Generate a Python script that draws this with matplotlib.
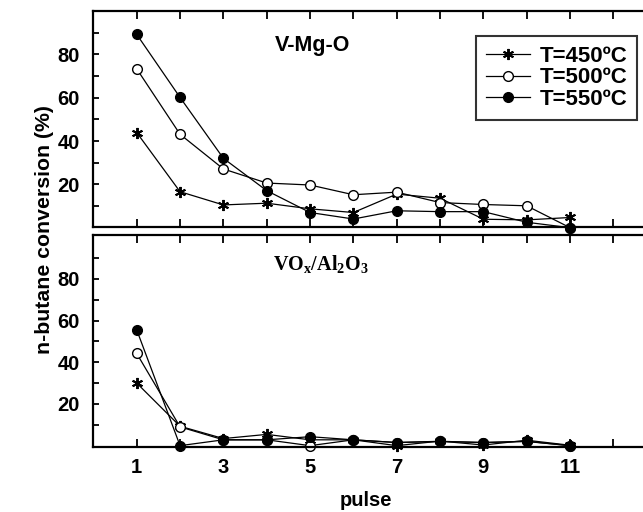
import matplotlib
matplotlib.use("Agg")
import matplotlib.pyplot as plt
from matplotlib.ticker import MultipleLocator, FixedLocator

plt.rcParams['font.family'] = ['Liberation Sans', 'DejaVu Sans']

pulse = list(range(1, 12))
labels = ["T=450ºC", "T=500ºC", "T=550ºC"]

# V-Mg-O
vmgo_450 = [43.9, 16.6, 10.5, 11.3, 8.7, 7.0, 15.5, 13.6, 3.9, 3.6, 4.7]
vmgo_500 = [73.3, 43.1, 27.1, 20.6, 19.7, 15.2, 16.4, 11.6, 10.7, 10.1, 0.0]
vmgo_550 = [89.2, 60.1, 32.0, 17.1, 7.0, 4.0, 7.8, 7.4, 7.4, 2.5, 0.0]

# VOx/Al2O3
vox_450 = [30.0, 9.3, 3.4, 5.4, 2.8, 2.8, 0.0, 2.2, 0.3, 2.6, 0.2]
vox_500 = [44.2, 9.0, 2.8, 2.8, 0.0, 2.8, 1.5, 2.0, 1.5, 2.0, 0.0]
vox_550 = [55.5, 0.0, 2.8, 2.8, 4.3, 2.8, 1.5, 2.1, 1.5, 2.1, 0.0]

W, H = 643, 512
fig = plt.figure(figsize=(W / 100, H / 100), dpi=100)

x0 = 93.4
unit = 43.33
xmax = 13
ax_w = xmax * unit

def px(x, y):
    return fig.transFigure.transform((x / W, 1 - y / H))

def make_ax(top_px, bot_px, ylim):
    ax = fig.add_axes([x0 / W, 1 - bot_px / H, ax_w / W, (bot_px - top_px) / H])
    ax.set_xlim(0, xmax)
    ax.set_ylim(*ylim)
    ax.xaxis.set_major_locator(MultipleLocator(1))
    ax.yaxis.set_major_locator(FixedLocator([20, 40, 60, 80]))
    ax.yaxis.set_minor_locator(FixedLocator([10, 30, 50, 70, 90]))
    ax.tick_params(which='both', direction='in', top=True, right=False, width=1.3, color='black')
    ax.tick_params(axis='x', length=6)
    ax.tick_params(axis='y', which='both', length=4)
    ax.tick_params(axis='y', pad=10)
    for s in ax.spines.values():
        s.set_linewidth(1.6)
    for t in ax.get_yticklabels():
        t.set_fontweight('bold')
        t.set_fontsize(14.5)
    return ax

ax1 = make_ax(11, 226.6, (0.5, 100))
ax2 = make_ax(235, 446.7, (-0.5, 101))

ms = 7
line_kw = dict(color='black', lw=0.9)
star = (6, 2, 0)

def plot_set(ax, a, b, c):
    h1, = ax.plot(pulse, a, marker=star, ms=8, mew=1.4, mec='black', **line_kw, label=labels[0])
    h2, = ax.plot(pulse, b, marker='o', ms=ms, mfc='white', mec='black', mew=1.0, **line_kw, label=labels[1])
    h3, = ax.plot(pulse, c, marker='o', ms=ms, mfc='black', mec='black', **line_kw, label=labels[2])
    for h in (h1, h2, h3):
        h.set_clip_on(False)
    return [h1, h2, h3]

hs = plot_set(ax1, vmgo_450, vmgo_500, vmgo_550)
plot_set(ax2, vox_450, vox_500, vox_550)

ax1.tick_params(axis='x', labelbottom=False)
ax2.set_xticks(range(1, 13))
ax2.set_xticklabels(['1', '', '3', '', '5', '', '7', '', '9', '', '11', ''],
                    fontweight='bold', fontsize=14.5)
ax2.tick_params(axis='x', pad=8)

ax1.text(*px(313, 45), 'V-Mg-O', transform=None, fontsize=15.5, fontweight='bold',
         ha='center', va='center')
ax2.text(*px(321, 265), r'VO$_\mathregular{x}$/Al$_\mathregular{2}$O$_\mathregular{3}$', transform=None,
         fontsize=14.5, fontweight='bold', family='Liberation Serif', ha='center', va='center')

fig.text(45 / W, 1 - 230 / H, 'n-butane conversion (%)', rotation=90, fontsize=15.3,
         fontweight='bold', ha='center', va='center')
fig.text(366 / W, 1 - 501 / H, 'pulse', fontsize=14.5, fontweight='bold', ha='center', va='center')

leg = ax1.legend(handles=hs, loc='upper left', bbox_to_anchor=(476 / W, 1 - 36 / H),
                 bbox_transform=fig.transFigure, frameon=True, fancybox=False,
                 edgecolor='black', handlelength=2.0, handletextpad=0.4,
                 borderpad=0.45, borderaxespad=0, labelspacing=0.02,
                 prop={'weight': 'bold', 'size': 16})
leg.get_frame().set_linewidth(1.5)

fig.savefig('out.png', dpi=100)
